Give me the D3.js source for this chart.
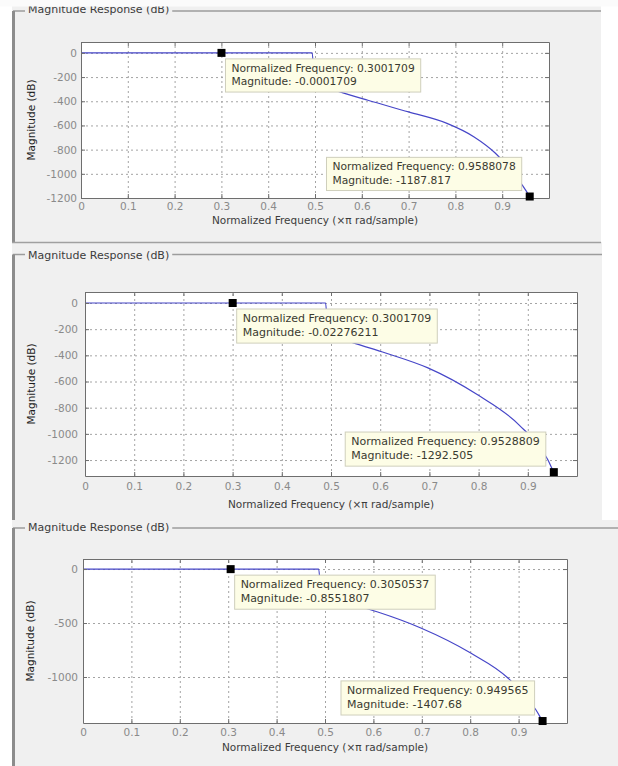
<!DOCTYPE html>
<html>
<head>
<meta charset="utf-8">
<script src="https://cdn.jsdelivr.net/npm/d3@7"></script>
<style>
  body { margin: 0; background: #fff; }
  svg text { font-family: "DejaVu Sans", sans-serif; }
</style>
</head>
<body>
<script>
// ---- data ----
var xTicks = [0, 0.1, 0.2, 0.3, 0.4, 0.5, 0.6, 0.7, 0.8, 0.9];
var yTicksA = [0, -200, -400, -600, -800, -1000, -1200];
var yTicksB = [0, -500, -1000];

var titleText = 'Magnitude Response (dB)';
var xLabelText = 'Normalized Frequency (\u00d7\u03c0 rad/sample)';
var yLabelText = 'Magnitude (dB)';

// panel 1
var freq1 = [0, 0.494, 0.499, 0.55, 0.613, 0.70, 0.782, 0.84, 0.885, 0.944, 0.9588, 0.97];
var mag1  = [0, 0, -250, -318, -392, -488, -583, -695, -828, -1100, -1187.817, -1260];
var tipFreq1 = [0.3001709, 0.9588078];
var tipMag1  = [-0.0001709, -1187.817];

// panel 2
var freq2 = [0, 0.489, 0.494, 0.55, 0.611, 0.697, 0.798, 0.882, 0.941, 0.9528809, 0.965];
var mag2  = [0, 0, -240, -310, -382, -496, -702, -931, -1200, -1292.505, -1360];
var tipFreq2 = [0.3001709, 0.9528809];
var tipMag2  = [-0.02276211, -1292.505];

// panel 3
var freq3 = [0, 0.487, 0.492, 0.55, 0.609, 0.698, 0.801, 0.878, 0.936, 0.949565, 0.96];
var mag3  = [0, 0, -250, -320, -398, -546, -778, -1009, -1306, -1407.68, -1480];
var tipFreq3 = [0.3050537, 0.949565];
var tipMag3  = [-0.8551807, -1407.68];

// ---- layout ----
var W = 618, H = 766;
var panels = [
  { freq: freq1, mag: mag1, tf: tipFreq1, tm: tipMag1, yTicks: yTicksA, yDom: [-1200, 90],
    bg: [12, 0, 601, 242], frameY: 11, titleY: 12.5,
    x0: 81, x1: 549, y0: 42, y1: 198, tickY: 210, xLabY: 224, yLabX: 35, yPad: 4, fs: 10.7 },
  { freq: freq2, mag: mag2, tf: tipFreq2, tm: tipMag2, yTicks: yTicksA, yDom: [-1322, 84],
    bg: [12, 242, 602, 520], frameY: 254.5, titleY: 258.5,
    x0: 85, x1: 577, y0: 292, y1: 476, tickY: 490, xLabY: 508, yLabX: 35, yPad: 7, fs: 11 },
  { freq: freq3, mag: mag3, tf: tipFreq3, tm: tipMag3, yTicks: yTicksB, yDom: [-1426, 93],
    bg: [12, 520, 618, 766], frameY: 528, titleY: 531,
    x0: 83, x1: 567, y0: 559, y1: 723, tickY: 736, xLabY: 751, yLabX: 34, yPad: 5, fs: 11 }
];

var svg = d3.select('body').append('svg')
  .attr('width', W)
  .attr('height', H);

var defs = svg.append('defs');

var styleAxis = function (sel) {
  sel.select('.domain').attr('stroke', '#6e6e6e');
  sel.selectAll('.tick line').attr('stroke', '#6e6e6e');
  sel.selectAll('.tick text').attr('fill', '#8a8a8a').style('font-size', '10.5px')
    .style('font-family', '"DejaVu Sans", sans-serif');
};

var styleGrid = function (sel) {
  sel.select('.domain').remove();
  sel.selectAll('.tick line').attr('stroke', '#a4a4a4').attr('stroke-dasharray', '2,3');
  sel.selectAll('.tick text').remove();
};

var fmtX = function (d) { return String(+d.toFixed(1)); };
var fmtY = function (d) { return String(d); };

var drawPanel = function (p, i) {
  var x = d3.scaleLinear().domain([0, 1]).range([p.x0, p.x1])
    , y = d3.scaleLinear().domain(p.yDom).range([p.y1, p.y0])
    , g = svg.append('g')
    , w = p.x1 - p.x0
    , h = p.y1 - p.y0;

  // panel background
  g.append('rect')
    .attr('x', p.bg[0]).attr('y', p.bg[1])
    .attr('width', p.bg[2] - p.bg[0]).attr('height', p.bg[3] - p.bg[1])
    .attr('fill', '#f0f0f0');

  // panel frame with title
  var title = g.append('text')
    .attr('x', 28).attr('y', p.titleY)
    .attr('fill', '#3c3c3c')
    .style('font-size', '11px')
    .text(titleText);
  var tw = title.node().getComputedTextLength();
  g.insert('line', 'text')
    .attr('x1', 13).attr('x2', 25).attr('y1', p.frameY).attr('y2', p.frameY)
    .attr('stroke', '#9c9c9c').attr('stroke-width', 1.5);
  g.insert('line', 'text')
    .attr('x1', 28 + tw + 3).attr('x2', p.bg[2]).attr('y1', p.frameY).attr('y2', p.frameY)
    .attr('stroke', '#9c9c9c').attr('stroke-width', 1.5);
  g.append('line')
    .attr('x1', 13.5).attr('x2', 13.5).attr('y1', p.frameY).attr('y2', p.bg[3])
    .attr('stroke', '#8c8c8c').attr('stroke-width', 3);

  // plot area
  g.append('rect')
    .attr('x', p.x0).attr('y', p.y0).attr('width', w).attr('height', h)
    .attr('fill', '#fff');

  // grid
  g.append('g').attr('transform', 'translate(0,' + p.y1 + ')')
    .call(d3.axisBottom(x).tickValues(xTicks).tickSize(-h))
    .call(styleGrid);
  g.append('g').attr('transform', 'translate(' + p.x0 + ',0)')
    .call(d3.axisLeft(y).tickValues(p.yTicks).tickSize(-w))
    .call(styleGrid);

  // response curve
  defs.append('clipPath').attr('id', 'clip' + i)
    .append('rect').attr('x', p.x0).attr('y', p.y0).attr('width', w).attr('height', h);
  var pts = p.freq.map(function (f, k) { return [f, p.mag[k]]; });
  g.append('path')
    .datum(pts)
    .attr('clip-path', 'url(#clip' + i + ')')
    .attr('fill', 'none')
    .attr('stroke', '#4646c8')
    .attr('stroke-width', 1.2)
    .attr('d', d3.line()
      .curve(d3.curveMonotoneX)
      .x(function (d) { return x(d[0]); })
      .y(function (d) { return y(d[1]); }));

  // axes, ticks pointing inwards
  var bottom = g.append('g').attr('transform', 'translate(0,' + p.y1 + ')')
    .call(d3.axisBottom(x).tickValues(xTicks).tickSizeInner(-4).tickSizeOuter(0).tickFormat(fmtX))
    .call(styleAxis);
  bottom.selectAll('.tick text').attr('y', p.tickY - p.y1).attr('dy', null);
  g.append('g').attr('transform', 'translate(0,' + p.y0 + ')')
    .call(d3.axisTop(x).tickValues(xTicks).tickSizeInner(-4).tickSizeOuter(0).tickFormat(''))
    .call(styleAxis);
  g.append('g').attr('transform', 'translate(' + p.x0 + ',0)')
    .call(d3.axisLeft(y).tickValues(p.yTicks).tickSizeInner(-4).tickSizeOuter(0)
      .tickPadding(p.yPad).tickFormat(fmtY))
    .call(styleAxis);
  g.append('g').attr('transform', 'translate(' + p.x1 + ',0)')
    .call(d3.axisRight(y).tickValues(p.yTicks).tickSizeInner(-4).tickSizeOuter(0).tickFormat(''))
    .call(styleAxis);

  // axis labels
  g.append('text')
    .attr('x', (p.x0 + p.x1) / 2).attr('y', p.xLabY)
    .attr('text-anchor', 'middle')
    .attr('fill', '#3c3c3c')
    .style('font-size', '10.5px')
    .text(xLabelText);
  g.append('text')
    .attr('transform', 'translate(' + p.yLabX + ',' + ((p.y0 + p.y1) / 2) + ') rotate(-90)')
    .attr('text-anchor', 'middle')
    .attr('fill', '#1e1e1e')
    .style('font-size', '10.5px')
    .text(yLabelText);

  // data tips
  p.tf.forEach(function (f, k) {
    var mx = x(f)
      , my = y(p.tm[k])
      , lines = ['Normalized Frequency: ' + f, 'Magnitude: ' + p.tm[k]]
      , tg = g.append('g')
      , bh = p.fs * 3.1
      , rect = tg.append('rect')
      , tw2 = 0;

    var texts = tg.selectAll('text').data(lines).enter().append('text')
      .attr('fill', '#3a3a30')
      .style('font-size', p.fs + 'px')
      .text(function (d) { return d; });
    texts.each(function () { tw2 = Math.max(tw2, this.getComputedTextLength()); });

    var bw = tw2 + 12
      , bx = k === 0 ? mx + 4 : mx - 8 - bw
      , by = k === 0 ? my + 6 : my - 6 - bh;

    rect.attr('x', bx).attr('y', by).attr('width', bw).attr('height', bh)
      .attr('fill', '#fdfde6').attr('stroke', '#cfcfbc');
    texts.attr('x', bx + 6)
      .attr('y', function (d, j) { return by + (j === 0 ? p.fs * 1.2 : p.fs * 2.45); });

    g.append('rect')
      .attr('x', mx - 4).attr('y', my - 4).attr('width', 8).attr('height', 8)
      .attr('fill', '#000');
  });
};

panels.forEach(drawPanel);

// separator under the first panel and the cropped top strip
svg.append('line')
  .attr('x1', 12).attr('x2', 601).attr('y1', 242.5).attr('y2', 242.5)
  .attr('stroke', '#a0a0a0').attr('stroke-width', 1.5);
svg.append('rect')
  .attr('x', 0).attr('y', 0).attr('width', W).attr('height', 6.5)
  .attr('fill', '#fbfbfb');
</script>
</body>
</html>
